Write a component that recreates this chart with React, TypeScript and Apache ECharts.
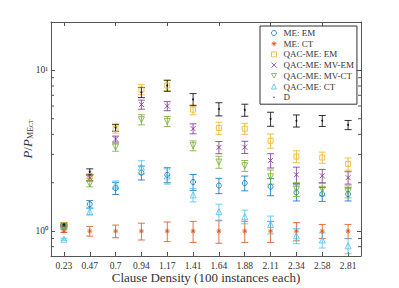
import React, { useEffect, useRef } from "react";
import * as echarts from "echarts";

const categories = ["0.23", "0.47", "0.7", "0.94", "1.17", "1.41", "1.64", "1.88", "2.11", "2.34", "2.58", "2.81"];

const meEM = [1.07, 1.47, 1.85, 2.31, 2.24, 2.02, 1.92, 1.99, 1.89, 1.74, 1.7, 1.7];
const meEMErr = [0.023, 0.078, 0.16, 0.23, 0.24, 0.23, 0.21, 0.21, 0.23, 0.2, 0.17, 0.16];
const meCT = [1, 1, 1, 1, 1, 1, 1, 1, 1, 1, 1, 1];
const meCTErr = [0.02, 0.07, 0.09, 0.12, 0.14, 0.15, 0.16, 0.15, 0.15, 0.13, 0.1, 0.1];
const qacEM = [1.09, 2.2, 4.32, 7.6, 8.05, 5.7, 4.38, 4.34, 3.65, 2.91, 2.87, 2.62];
const qacEMErr = [0.016, 0.063, 0.25, 0.55, 0.58, 0.41, 0.38, 0.34, 0.37, 0.25, 0.23, 0.23];
const qacMVEM = [1.08, 2.14, 3.74, 6.13, 6.0, 4.34, 3.32, 3.33, 2.75, 2.24, 2.21, 2.15];
const qacMVEMErr = [0.016, 0.09, 0.16, 0.4, 0.39, 0.31, 0.29, 0.29, 0.28, 0.26, 0.21, 0.19];
const qacMVCT = [1.06, 1.97, 3.33, 4.94, 4.82, 3.4, 2.69, 2.55, 2.18, 1.82, 1.82, 1.76];
const qacMVCTErr = [0.015, 0.085, 0.19, 0.36, 0.35, 0.24, 0.23, 0.2, 0.22, 0.18, 0.16, 0.15];
const qacCT = [0.89, 1.32, 1.94, 2.5, 2.2, 1.68, 1.32, 1.23, 1.1, 0.935, 0.88, 0.81];
const qacCTErr = [0.013, 0.06, 0.11, 0.24, 0.24, 0.16, 0.15, 0.12, 0.14, 0.1, 0.095, 0.087];
const dVals = [1.1, 2.34, 4.4, 7.3, 8.05, 6.6, 5.75, 5.67, 4.99, 4.86, 4.86, 4.58];
const dErr = [0.024, 0.1, 0.22, 0.53, 0.64, 0.57, 0.54, 0.49, 0.5, 0.42, 0.38, 0.3];

const minorTickValues = [0.8, 0.9, 2, 3, 4, 5, 6, 7, 8, 9];

const FONT = "Liberation Serif";
const AXIS_COLOR = "#555555";
const TEXT_COLOR = "#333333";

type SeriesDef = {
  name: string;
  values: number[];
  errs: number[];
  color: string;
  symbol: string;
  legendIcon: string;
  size: number;
  filled: boolean;
};

const seriesDefs: SeriesDef[] = [
  { name: "ME: EM", values: meEM, errs: meEMErr, color: "#0072BD", symbol: "circle", legendIcon: "circle", size: 5, filled: false },
  { name: "ME: CT", values: meCT, errs: meCTErr, color: "#D95319", symbol: "path://M5,0L5,10M0,5L10,5M1.5,1.5L8.5,8.5M8.5,1.5L1.5,8.5", legendIcon: "path://M5,0L5,10M0,5L10,5M1.5,1.5L8.5,8.5M8.5,1.5L1.5,8.5", size: 5, filled: false },
  { name: "QAC-ME: EM", values: qacEM, errs: qacEMErr, color: "#EDB120", symbol: "rect", legendIcon: "rect", size: 5, filled: false },
  { name: "QAC-ME: MV-EM", values: qacMVEM, errs: qacMVEMErr, color: "#7E2F8E", symbol: "path://M0,0L10,10M10,0L0,10", legendIcon: "path://M0,0L10,10M10,0L0,10", size: 5, filled: false },
  { name: "QAC-ME: MV-CT", values: qacMVCT, errs: qacMVCTErr, color: "#77AC30", symbol: "path://M0,0L10,0L5,9Z", legendIcon: "path://M0,0L10,0L5,9Z", size: 6, filled: false },
  { name: "QAC-ME: CT", values: qacCT, errs: qacCTErr, color: "#4DBEEE", symbol: "triangle", legendIcon: "triangle", size: 6, filled: false },
  { name: "D", values: dVals, errs: dErr, color: "#000000", symbol: "circle", legendIcon: "path://M0,0M10,10M3.5,5a1.5,1.5 0 1,0 3,0a1.5,1.5 0 1,0 -3,0Z", size: 2, filled: true },
];

function styleOf(def: SeriesDef) {
  return def.filled
    ? { color: def.color, borderWidth: 0 }
    : { color: "rgba(0,0,0,0)", borderColor: def.color, borderWidth: 1 };
}

function errorSeries(def: SeriesDef) {
  return {
    type: "custom",
    name: def.name + " err",
    xAxisIndex: 0,
    yAxisIndex: 0,
    silent: true,
    z: 2,
    data: def.values.map((v, i) => [i, v - def.errs[i], v + def.errs[i]]),
    encode: { x: 0, y: [1, 2] },
    renderItem: (params: any, api: any) => {
      const i = api.value(0);
      const p1 = api.coord([i, api.value(1)]);
      const p2 = api.coord([i, api.value(2)]);
      const x = p1[0];
      const hw = 3.5;
      const style = { stroke: def.color, lineWidth: 1, opacity: 0.8 };
      return {
        type: "group",
        children: [
          { type: "line", shape: { x1: x, y1: p1[1], x2: x, y2: p2[1] }, style },
          { type: "line", shape: { x1: x - hw, y1: p1[1], x2: x + hw, y2: p1[1] }, style },
          { type: "line", shape: { x1: x - hw, y1: p2[1], x2: x + hw, y2: p2[1] }, style },
        ],
      };
    },
  };
}

function markerSeries(def: SeriesDef) {
  return {
    type: "scatter",
    name: def.name,
    xAxisIndex: 0,
    yAxisIndex: 0,
    z: 3,
    symbol: def.symbol,
    symbolSize: def.size,
    data: def.values.map((v, i) => [i, v]),
    itemStyle: styleOf(def),
  };
}

const supMap: Record<string, string> = { "1": "10⁰", "10": "10¹" };

export default function App() {
  const ref = useRef<HTMLDivElement>(null);
  useEffect(() => {
    if (!ref.current) return;
    const chart = echarts.init(ref.current, null, { renderer: "svg" });
    const minorSeries = {
      type: "custom",
      name: "minor ticks",
      silent: true,
      xAxisIndex: 0,
      yAxisIndex: 0,
      data: minorTickValues.map((v) => [0, v]),
      encode: { x: 0, y: 1 },
      renderItem: (params: any, api: any) => {
        const cs = params.coordSys;
        const y = api.coord([0, api.value(1)])[1];
        const style = { stroke: AXIS_COLOR, lineWidth: 1 };
        return {
          type: "group",
          children: [
            { type: "line", shape: { x1: cs.x, y1: y, x2: cs.x + 3, y2: y }, style },
            { type: "line", shape: { x1: cs.x + cs.width - 3, y1: y, x2: cs.x + cs.width, y2: y }, style },
          ],
        };
      },
    };
    const axisLine = { show: true, lineStyle: { color: AXIS_COLOR, width: 1 } };
    chart.setOption({
      animation: false,
      backgroundColor: "#ffffff",
      grid: { left: 51, right: 38, top: 22, bottom: 32, containLabel: false, outerBoundsMode: "none" },
      legend: {
        data: seriesDefs.map((d) => ({
          name: d.name,
          icon: d.legendIcon,
          itemStyle: styleOf(d),
        })),
        orient: "vertical",
        left: 260,
        top: 26,
        padding: [2, 3, 2, 11],
        itemGap: 0.7,
        itemWidth: 5,
        itemHeight: 5,
        backgroundColor: "#ffffff",
        borderColor: "#333333",
        borderWidth: 1,
        borderRadius: 0,
        textStyle: { fontFamily: FONT, fontSize: 9, color: TEXT_COLOR, lineHeight: 10, padding: [0, 0, 0, 2] },
      },
      xAxis: [
        {
          type: "category",
          data: categories,
          position: "bottom",
          boundaryGap: true,
          axisLine,
          axisTick: { show: true, inside: true, alignWithLabel: true, length: 4, lineStyle: { color: AXIS_COLOR } },
          axisLabel: { fontFamily: FONT, fontSize: 9.5, color: TEXT_COLOR, margin: 5, interval: 0 },
          splitLine: { show: false },
          name: "Clause Density (100 instances each)",
          nameLocation: "middle",
          nameGap: 15,
          nameMoveOverlap: false,
          nameTextStyle: { fontFamily: FONT, fontSize: 13, color: TEXT_COLOR, verticalAlign: "top" },
        },
        {
          type: "category",
          data: categories,
          position: "top",
          boundaryGap: true,
          axisLine,
          axisTick: { show: true, inside: true, alignWithLabel: true, length: 4, lineStyle: { color: AXIS_COLOR } },
          axisLabel: { show: false },
          splitLine: { show: false },
        },
      ],
      yAxis: [
        {
          type: "log",
          logBase: 10,
          min: 0.7,
          max: 20,
          position: "left",
          axisLine,
          axisTick: { show: true, inside: true, length: 4, lineStyle: { color: AXIS_COLOR } },
          axisLabel: {
            fontFamily: FONT,
            fontSize: 9.5,
            color: TEXT_COLOR,
            margin: 3,
            showMinLabel: false,
            showMaxLabel: false,
            formatter: (v: number) => supMap[String(Math.round(v * 1000) / 1000)] || "",
          },
          splitLine: { show: false },
          name: "{i|P}{n|/}{i|P}{s|ME}{ss|CT}",
          nameLocation: "middle",
          nameRotate: 90,
          nameGap: 17,
          nameMoveOverlap: false,
          nameTextStyle: {
            fontFamily: FONT,
            color: TEXT_COLOR,
            rich: {
              i: { fontFamily: FONT, fontStyle: "italic", fontSize: 13, color: TEXT_COLOR },
              n: { fontFamily: FONT, fontSize: 13, color: TEXT_COLOR },
              s: { fontFamily: FONT, fontSize: 8, color: TEXT_COLOR, verticalAlign: "bottom", padding: [5, 0, 0, 0] },
              ss: { fontFamily: FONT, fontSize: 6, color: TEXT_COLOR, verticalAlign: "bottom", padding: [8, 0, 0, 0] },
            },
          },
        },
        {
          type: "log",
          logBase: 10,
          min: 0.7,
          max: 20,
          position: "right",
          axisLine,
          axisTick: { show: true, inside: true, length: 4, lineStyle: { color: AXIS_COLOR } },
          axisLabel: { show: false },
          splitLine: { show: false },
        },
      ],
      series: [
        minorSeries,
        ...seriesDefs.map(errorSeries),
        ...seriesDefs.map(markerSeries),
      ],
    });
    return () => chart.dispose();
  }, []);
  return (
    <div
      ref={ref}
      style={{ position: "fixed", left: 0, top: 0, width: 399, height: 288, background: "#fff" }}
    />
  );
}
